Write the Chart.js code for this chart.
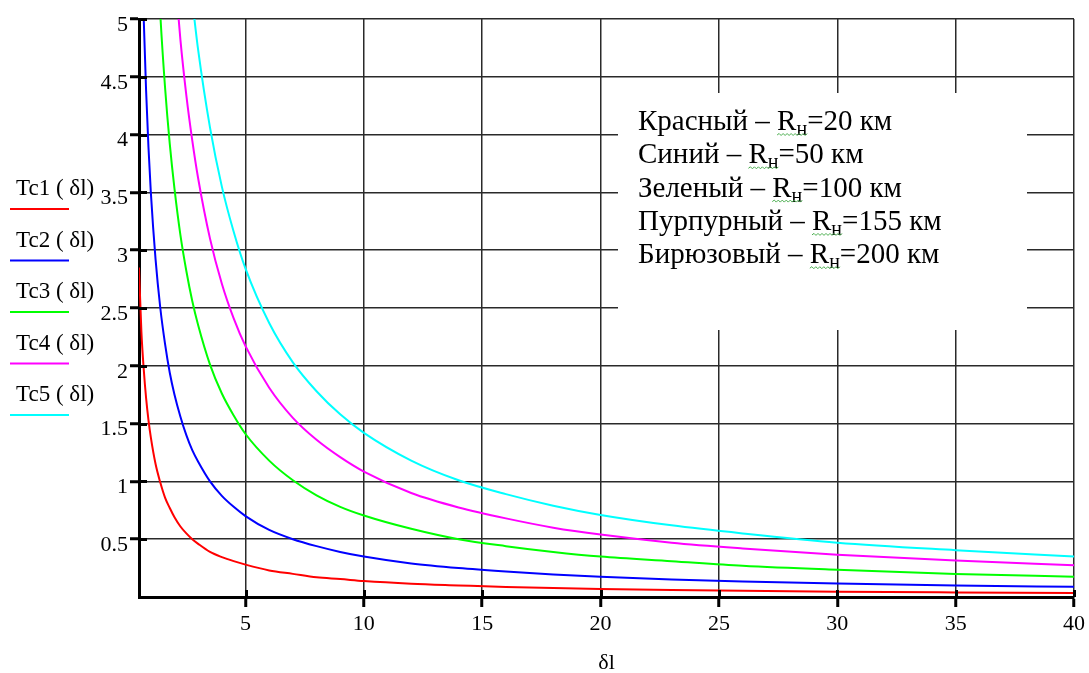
<!DOCTYPE html>
<html>
<head>
<meta charset="utf-8">
<title>Tc(δl)</title>
<script src="https://cdn.jsdelivr.net/npm/chart.js@4.4.1/dist/chart.umd.min.js"></script>
<style>
  html, body { margin: 0; padding: 0; background: #fff; }
  #wrap { width: 1089px; height: 673px; }
</style>
</head>
<body>
<div id="wrap"><canvas id="grafico" width="1089" height="673"></canvas></div>
<script>
// δl sample points shared by all curves
const DELTA_L = [0.5, 0.6, 0.7, 0.8, 0.9, 1, 1.2, 1.4, 1.6, 1.8, 2, 2.25, 2.5, 2.75, 3, 3.5, 4, 4.5, 5,
  6, 7, 8, 9, 10, 12, 14, 16, 18, 20, 23, 26, 30, 35, 40];

// Tc values, null where the curve is still above the top of the plot
const TC1 = [2.85, 2.3, 1.97, 1.72, 1.53, 1.38, 1.15, 0.99, 0.86, 0.77, 0.69, 0.61, 0.55, 0.5, 0.46, 0.39, 0.345, 0.31, 0.28,
  0.23, 0.2, 0.17, 0.155, 0.138, 0.115, 0.1, 0.086, 0.077, 0.069, 0.06, 0.053, 0.046, 0.04, 0.035];
const TC2 = [null, 5.83, 5.0, 4.38, 3.89, 3.5, 2.92, 2.5, 2.19, 1.94, 1.75, 1.56, 1.4, 1.27, 1.17, 1.0, 0.875, 0.78, 0.7,
  0.58, 0.5, 0.44, 0.39, 0.35, 0.29, 0.25, 0.22, 0.195, 0.175, 0.152, 0.135, 0.117, 0.1, 0.088];
const TC3 = [null, null, null, null, null, null, 5.88, 5.04, 4.41, 3.92, 3.53, 3.13, 2.82, 2.56, 2.35, 2.01, 1.76, 1.57, 1.41,
  1.18, 1.01, 0.88, 0.78, 0.705, 0.59, 0.5, 0.44, 0.39, 0.35, 0.31, 0.27, 0.235, 0.2, 0.175];
const TC4 = [null, null, null, null, null, null, null, null, null, null, 5.43, 4.82, 4.34, 3.95, 3.62, 3.1, 2.71, 2.41, 2.17,
  1.81, 1.55, 1.36, 1.21, 1.085, 0.9, 0.775, 0.68, 0.6, 0.54, 0.47, 0.42, 0.365, 0.315, 0.275];
const TC5 = [null, null, null, null, null, null, null, null, null, null, null, null, null, 5.16, 4.73, 4.06, 3.55, 3.16, 2.84,
  2.37, 2.03, 1.78, 1.58, 1.42, 1.18, 1.01, 0.89, 0.79, 0.71, 0.62, 0.55, 0.47, 0.405, 0.35];

const SERIES_NAMES = ['Tc1 ( δl)', 'Tc2 ( δl)', 'Tc3 ( δl)', 'Tc4 ( δl)', 'Tc5 ( δl)'];
const SERIES_COLORS = ['#ff0000', '#0000ff', '#00ff00', '#ff00ff', '#00ffff'];

const X_TICKS = [5, 10, 15, 20, 25, 30, 35, 40];
const Y_TICKS = [0.5, 1, 1.5, 2, 2.5, 3, 3.5, 4, 4.5, 5];

const NOTE_NAMES = ['Красный', 'Синий', 'Зеленый', 'Пурпурный', 'Бирюзовый'];
const NOTE_RADII = [20, 50, 100, 155, 200];

const SERIF = '"Liberation Serif", "Times New Roman", serif';
const INK = '#000';

// short thick stubs of the tick marks inside the plot
const tickStubs = {
  id: 'tickStubs',
  afterDraw(chart) {
    const { ctx, chartArea: a, scales: { x, y } } = chart;
    ctx.save();
    ctx.strokeStyle = '#000';
    ctx.lineWidth = 3;
    ctx.beginPath();
    Y_TICKS.forEach(v => {
      const py = Math.round(y.getPixelForValue(v)) + 0.5;
      ctx.moveTo(a.left, py);
      ctx.lineTo(a.left + 8, py);
    });
    X_TICKS.forEach(v => {
      const px = Math.round(x.getPixelForValue(v)) + 0.5;
      ctx.moveTo(px, a.bottom);
      ctx.lineTo(px, a.bottom - 7);
    });
    ctx.stroke();
    ctx.restore();
  }
};

// series labels with their colour swatches, stacked on the left
const seriesKey = {
  id: 'seriesKey',
  afterDraw(chart) {
    const ctx = chart.ctx;
    ctx.save();
    ctx.font = `23px ${SERIF}`;
    ctx.textBaseline = 'alphabetic';
    chart.data.datasets.forEach((ds, i) => {
      const base = 195 + i * 51.5;
      ctx.fillStyle = INK;
      ctx.fillText(ds.label, 16, base);
      ctx.strokeStyle = ds.borderColor;
      ctx.lineWidth = 2;
      ctx.beginPath();
      ctx.moveTo(10, base + 14);
      ctx.lineTo(69, base + 14);
      ctx.stroke();
    });
    ctx.restore();
  }
};

// white note box explaining the colours
const noteBox = {
  id: 'noteBox',
  beforeDatasetsDraw(chart) {
    const ctx = chart.ctx;
    ctx.save();
    ctx.fillStyle = '#fff';
    ctx.fillRect(618, 93, 409, 237);

    const main = `29px ${SERIF}`;
    const sub = `20px ${SERIF}`;
    NOTE_NAMES.forEach((name, i) => {
      const base = 130 + i * 33.3;
      let xPos = 638;
      ctx.fillStyle = INK;
      ctx.font = main;
      const head = `${name} – R`;
      ctx.fillText(head, xPos, base);
      const rStart = xPos + ctx.measureText(`${name} – `).width;
      xPos += ctx.measureText(head).width;
      ctx.font = sub;
      ctx.fillText('н', xPos, base + 5);
      xPos += ctx.measureText('н').width;
      const rEnd = xPos;
      ctx.font = main;
      ctx.fillText(`=${NOTE_RADII[i]} км`, xPos, base);

      // spell-check squiggle under Rн
      ctx.strokeStyle = '#4caf50';
      ctx.lineWidth = 1;
      ctx.beginPath();
      let up = true;
      ctx.moveTo(rStart, base + 5);
      for (let sx = rStart + 2; sx <= rEnd; sx += 2) {
        ctx.lineTo(sx, base + (up ? 3.5 : 5.5));
        up = !up;
      }
      ctx.stroke();
    });
    ctx.restore();
  }
};

const series = [TC1, TC2, TC3, TC4, TC5];

new Chart(document.getElementById('grafico').getContext('2d'), {
  type: 'line',
  data: {
    datasets: series.map((vals, i) => ({
      label: SERIES_NAMES[i],
      data: DELTA_L.map((x, j) => ({ x, y: vals[j] })),
      borderColor: SERIES_COLORS[i],
      backgroundColor: SERIES_COLORS[i],
      borderWidth: 2,
      pointRadius: 0,
      fill: false,
      cubicInterpolationMode: 'monotone'
    }))
  },
  options: {
    responsive: false,
    animation: false,
    devicePixelRatio: 1,
    layout: { padding: { top: 19, right: 13, left: 0, bottom: 0 } },
    plugins: {
      legend: { display: false },
      tooltip: { enabled: false }
    },
    scales: {
      x: {
        type: 'linear',
        min: 0.5,
        max: 40,
        afterBuildTicks: s => { s.ticks = X_TICKS.map(v => ({ value: v })); },
        afterFit: s => { s.height = 76; },
        grid: { color: '#2a2a2a', lineWidth: 1.5, tickLength: 10, tickWidth: 3, tickColor: '#000' },
        border: { display: true, color: '#000', width: 3 },
        ticks: {
          color: INK,
          font: { family: SERIF, size: 22 },
          padding: 4,
          maxRotation: 0,
          autoSkip: false,
          callback: v => String(v)
        },
        title: {
          display: true,
          text: 'δl',
          color: INK,
          font: { family: SERIF, size: 22 },
          padding: { top: 0, bottom: -3 }
        }
      },
      y: {
        type: 'linear',
        min: 0,
        max: 5,
        afterBuildTicks: s => { s.ticks = Y_TICKS.map(v => ({ value: v })); },
        afterFit: s => { s.width = 139; },
        grid: { color: '#2a2a2a', lineWidth: 1.5, tickLength: 9, tickWidth: 3, tickColor: '#000' },
        border: { display: true, color: '#000', width: 3 },
        ticks: {
          color: INK,
          font: { family: SERIF, size: 22 },
          padding: 2,
          labelOffset: 6,
          autoSkip: false,
          callback: v => String(v)
        }
      }
    }
  },
  plugins: [noteBox, tickStubs, seriesKey]
});
</script>
</body>
</html>
